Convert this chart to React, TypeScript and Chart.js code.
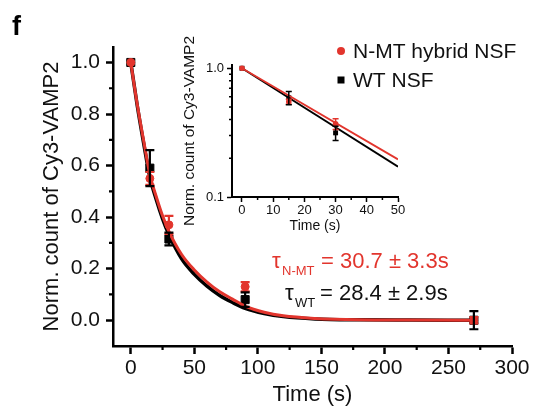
import React, { useEffect, useRef } from 'react';
import { Chart, registerables } from 'chart.js';

Chart.register(...registerables);

const FONT = "'Liberation Sans', Arial, Helvetica, sans-serif";
const RED = '#e2352d';
const BLACK = '#000000';

// ---- main panel data ----
const timePoints = [0, 15, 30, 90, 270];
const nmtMean = [1.0, 0.55, 0.37, 0.13, 0.0];
const nmtErr = [0.0, 0.025, 0.035, 0.018, 0.012];
const wtMean = [1.0, 0.59, 0.315, 0.08, 0.0];
const wtErr = [0.0, 0.07, 0.025, 0.028, 0.035];

const fitTime = [0, 5, 10, 15, 20, 25, 30, 40, 50, 60, 70, 80, 90, 105, 120, 145, 180, 220, 270];
const nmtFit = [1.0, 0.84, 0.70, 0.565, 0.48, 0.405, 0.345, 0.255, 0.195, 0.148, 0.11, 0.082, 0.055, 0.031, 0.017, 0.007, 0.002, 0.001, 0.0];
const wtFit = [1.0, 0.835, 0.69, 0.555, 0.468, 0.393, 0.332, 0.238, 0.178, 0.132, 0.096, 0.069, 0.046, 0.026, 0.014, 0.005, 0.0015, 0.0005, 0.0];

const mainXTicks = [0, 50, 100, 150, 200, 250, 300];
const mainXMinor = [25, 75, 125, 175, 225, 275];
const mainYTicks = [0.0, 0.2, 0.4, 0.6, 0.8, 1.0];
const mainYMinor = [0.1, 0.3, 0.5, 0.7, 0.9];

// ---- inset data ----
const insetTime = [0, 15, 30];
const insetNmt = [1.0, 0.55, 0.37];
const insetNmtErr = [0.0, 0.025, 0.035];
const insetWt = [1.0, 0.59, 0.315];
const insetWtErr = [0.0, 0.07, 0.04];
const insetFitTime = [0, 50];
const insetNmtFit = [1.0, 0.196];
const insetWtFit = [1.0, 0.172];

const insetXTicks = [0, 10, 20, 30, 40, 50];
const insetXMinor = [5, 15, 25, 35, 45];
const insetYTicks = [0.1, 1.0];
const insetYMinor = [0.2, 0.3, 0.4, 0.5, 0.6, 0.7, 0.8, 0.9];

const toXY = (xs: number[], ys: number[]) => xs.map((x, i) => ({ x, y: ys[i] }));

const errorBarPlugin = {
  id: 'errorBars',
  afterDatasetsDraw(chart: any, _args: any, opts: any) {
    const ctx = chart.ctx;
    const yScale = chart.scales.y;
    chart.data.datasets.forEach((ds: any, i: number) => {
      if (!ds.errors) return;
      const meta = chart.getDatasetMeta(i);
      ctx.save();
      ctx.strokeStyle = ds.borderColor;
      ctx.lineWidth = opts.lineWidth || 2;
      meta.data.forEach((el: any, j: number) => {
        const e = ds.errors[j];
        if (!e) return;
        const v = ds.data[j].y;
        const top = yScale.getPixelForValue(v + e);
        const bot = yScale.getPixelForValue(v - e);
        const cap = opts.cap || 4;
        ctx.beginPath();
        ctx.moveTo(el.x, top);
        ctx.lineTo(el.x, bot);
        ctx.moveTo(el.x - cap, top);
        ctx.lineTo(el.x + cap, top);
        ctx.moveTo(el.x - cap, bot);
        ctx.lineTo(el.x + cap, bot);
        ctx.stroke();
      });
      ctx.restore();
    });
  },
};

const minorTickPlugin = {
  id: 'minorTicks',
  afterDraw(chart: any, _args: any, opts: any) {
    const ctx = chart.ctx;
    const { x, y } = chart.scales;
    const area = chart.chartArea;
    ctx.save();
    ctx.strokeStyle = '#000';
    ctx.lineWidth = opts.width || 2;
    ctx.beginPath();
    (opts.x || []).forEach((v: number) => {
      const px = x.getPixelForValue(v);
      ctx.moveTo(px, area.bottom);
      ctx.lineTo(px, area.bottom + opts.len);
    });
    (opts.y || []).forEach((v: number) => {
      const py = y.getPixelForValue(v);
      ctx.moveTo(area.left - opts.len, py);
      ctx.lineTo(area.left, py);
    });
    ctx.stroke();
    ctx.restore();
  },
};

const textPlugin = {
  id: 'panelText',
  afterDraw(chart: any) {
    const ctx = chart.ctx;
    ctx.save();
    ctx.textBaseline = 'alphabetic';
    ctx.textAlign = 'left';
    // panel letter
    ctx.fillStyle = '#000';
    ctx.font = `bold 27px ${FONT}`;
    ctx.fillText('f', 12, 35);
    // legend
    ctx.fillStyle = RED;
    ctx.beginPath();
    ctx.arc(341, 51, 4, 0, Math.PI * 2);
    ctx.fill();
    ctx.fillStyle = '#000';
    ctx.fillRect(337.5, 76.5, 7, 7);
    ctx.font = `21px ${FONT}`;
    ctx.fillStyle = '#111';
    ctx.fillText('N-MT hybrid NSF', 353, 58);
    ctx.fillText('WT NSF', 353, 87);
    // tau annotations
    ctx.fillStyle = RED;
    ctx.font = `22px ${FONT}`;
    ctx.fillText('τ', 272, 268);
    ctx.font = `13px ${FONT}`;
    ctx.fillText('N-MT', 282, 275);
    ctx.font = `22px ${FONT}`;
    ctx.fillText('= 30.7 ± 3.3s', 321, 268);
    ctx.fillStyle = '#111';
    ctx.fillText('τ', 285, 300);
    ctx.font = `13px ${FONT}`;
    ctx.fillText('WT', 295, 307);
    ctx.font = `22px ${FONT}`;
    ctx.fillText('= 28.4 ± 2.9s', 320, 300);
    ctx.restore();
  },
};

function setTicks(list: number[]) {
  return (s: any) => {
    s.ticks = list.map((v) => ({ value: v }));
  };
}

export default function App() {
  const mainRef = useRef<HTMLCanvasElement>(null);
  const insetRef = useRef<HTMLCanvasElement>(null);

  useEffect(() => {
    Chart.defaults.font.family = FONT;
    const main = new Chart(mainRef.current!, {
      type: 'line',
      data: {
        datasets: [
          {
            label: 'N-MT fit',
            data: toXY(fitTime, nmtFit),
            borderColor: RED,
            borderWidth: 3,
            pointRadius: 0,
            cubicInterpolationMode: 'monotone',
            order: 1,
          } as any,
          {
            label: 'WT fit',
            data: toXY(fitTime, wtFit),
            borderColor: BLACK,
            borderWidth: 3.5,
            pointRadius: 0,
            cubicInterpolationMode: 'monotone',
            order: 3,
          },
          {
            label: 'N-MT hybrid NSF',
            data: toXY(timePoints, nmtMean),
            errors: nmtErr,
            showLine: false,
            borderColor: RED,
            backgroundColor: RED,
            pointStyle: 'circle',
            pointRadius: 4,
            pointBorderWidth: 1,
            order: 0,
          },
          {
            label: 'WT NSF',
            data: toXY(timePoints, wtMean),
            errors: wtErr,
            showLine: false,
            borderColor: BLACK,
            backgroundColor: BLACK,
            pointStyle: 'rect',
            pointRadius: 5.7,
            pointBorderWidth: 1,
            order: 2,
          },
        ],
      },
      options: {
        responsive: false,
        animation: false,
        events: [],
        layout: { padding: { left: 35, top: 47, right: 22, bottom: 0 } },
        plugins: {
          legend: { display: false },
          tooltip: { enabled: false },
          errorBars: { lineWidth: 2.2, cap: 4.5 },
          minorTicks: { x: mainXMinor, y: mainYMinor, len: 4, width: 2.2 },
        } as any,
        scales: {
          x: {
            type: 'linear',
            min: -14,
            max: 300,
            afterBuildTicks: setTicks(mainXTicks),
            afterFit: (s: any) => {
              s.height = 62;
            },
            grid: { drawOnChartArea: false, drawTicks: true, tickLength: 8, tickWidth: 2.5, tickColor: '#000' },
            border: { display: true, color: '#000', width: 2.5 },
            ticks: { font: { size: 21 }, color: '#111', padding: 2, maxRotation: 0, autoSkip: false },
            title: { display: true, text: 'Time (s)', font: { size: 22 }, color: '#111', padding: { top: 0, bottom: 0 } },
          },
          y: {
            type: 'linear',
            min: -0.1,
            max: 1.06,
            afterBuildTicks: setTicks(mainYTicks),
            afterFit: (s: any) => {
              s.width = 78;
            },
            grid: { drawOnChartArea: false, drawTicks: true, tickLength: 7, tickWidth: 2.5, tickColor: '#000' },
            border: { display: true, color: '#000', width: 2.5 },
            ticks: {
              font: { size: 21 },
              color: '#111',
              padding: 6,
              autoSkip: false,
              callback: (v: any) => Number(v).toFixed(1),
            },
            title: { display: true, text: 'Norm. count of Cy3-VAMP2', font: { size: 22 }, color: '#111', padding: { top: 4, bottom: 0 } },
          },
        },
      },
      plugins: [errorBarPlugin, minorTickPlugin, textPlugin],
    } as any);

    const inset = new Chart(insetRef.current!, {
      type: 'line',
      data: {
        datasets: [
          {
            label: 'N-MT fit',
            data: toXY(insetFitTime, insetNmtFit),
            borderColor: RED,
            borderWidth: 1.8,
            pointRadius: 0,
            order: 1,
          },
          {
            label: 'WT fit',
            data: toXY(insetFitTime, insetWtFit),
            borderColor: BLACK,
            borderWidth: 1.8,
            pointRadius: 0,
            order: 3,
          },
          {
            label: 'N-MT hybrid NSF',
            data: toXY(insetTime, insetNmt),
            errors: insetNmtErr,
            showLine: false,
            borderColor: RED,
            backgroundColor: RED,
            pointStyle: 'circle',
            pointRadius: 2.8,
            pointBorderWidth: 0,
            order: 0,
          },
          {
            label: 'WT NSF',
            data: toXY(insetTime, insetWt),
            errors: insetWtErr,
            showLine: false,
            borderColor: BLACK,
            backgroundColor: BLACK,
            pointStyle: 'rect',
            pointRadius: 3.5,
            pointBorderWidth: 0,
            order: 2,
          },
        ],
      } as any,
      options: {
        responsive: false,
        animation: false,
        events: [],
        layout: { padding: { left: 178, top: 65, right: 136, bottom: 171 } },
        plugins: {
          legend: { display: false },
          tooltip: { enabled: false },
          errorBars: { lineWidth: 1.5, cap: 3 },
          minorTicks: { x: insetXMinor, y: insetYMinor, len: 3, width: 1.5 },
        } as any,
        scales: {
          x: {
            type: 'linear',
            min: -3.2,
            max: 50,
            afterBuildTicks: setTicks(insetXTicks),
            afterFit: (s: any) => {
              s.height = 40;
            },
            grid: { drawOnChartArea: false, drawTicks: true, tickLength: 5, tickWidth: 1.5, tickColor: '#000' },
            border: { display: true, color: '#000', width: 2 },
            ticks: { font: { size: 13 }, color: '#111', padding: 1, maxRotation: 0, autoSkip: false },
            title: { display: true, text: 'Time (s)', font: { size: 14 }, color: '#111', padding: { top: 0, bottom: 2 } },
          },
          y: {
            type: 'logarithmic',
            min: 0.1,
            max: 1.06,
            afterBuildTicks: setTicks(insetYTicks),
            afterFit: (s: any) => {
              s.width = 54;
            },
            grid: { drawOnChartArea: false, drawTicks: true, tickLength: 5, tickWidth: 1.5, tickColor: '#000' },
            border: { display: true, color: '#000', width: 2 },
            ticks: {
              font: { size: 13 },
              color: '#111',
              padding: 3,
              autoSkip: false,
              callback: (v: any) => Number(v).toFixed(1),
            },
            title: { display: true, text: 'Norm. count of Cy3-VAMP2', font: { size: 15.5 }, color: '#111', padding: { top: 2, bottom: 0 } },
          },
        },
      },
      plugins: [errorBarPlugin, minorTickPlugin],
    } as any);

    return () => {
      main.destroy();
      inset.destroy();
    };
  }, []);

  return (
    <div style={{ position: 'absolute', left: 0, top: 0, width: 534, height: 408, background: '#fff' }}>
      <canvas ref={mainRef} width={534} height={408} style={{ position: 'absolute', left: 0, top: 0 }} />
      <canvas ref={insetRef} width={534} height={408} style={{ position: 'absolute', left: 0, top: 0, pointerEvents: 'none' }} />
    </div>
  );
}
